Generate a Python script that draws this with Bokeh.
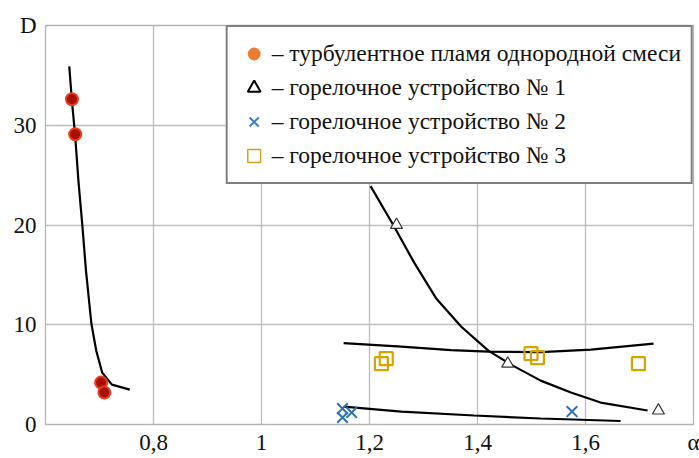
from bokeh.plotting import figure
from bokeh.models import (Range1d, FixedTicker, Legend, LegendItem,
                          ColumnDataSource)
from bokeh.embed import file_html
from bokeh.resources import INLINE

# ---- data ----
homog_x = [0.649, 0.655, 0.703, 0.709]
homog_D = [32.6, 29.1, 4.2, 3.2]

dev1_x = [1.25, 1.456, 1.735]
dev1_D = [20.0, 6.1, 1.4]

dev2_x = [1.150, 1.150, 1.167, 1.575]
dev2_D = [1.6, 0.7, 1.2, 1.3]

dev3_x = [1.222, 1.231, 1.499, 1.511, 1.698]
dev3_D = [6.1, 6.6, 7.1, 6.7, 6.1]

# trend curves
fit0_x = [0.644, 0.649, 0.655, 0.661, 0.668, 0.675, 0.685, 0.694, 0.705, 0.723, 0.756]
fit0_D = [35.9, 32.4, 28.9, 24.4, 20.1, 15.4, 10.1, 7.4, 5.2, 4.0, 3.5]

fit1_x = [1.202, 1.244, 1.283, 1.324, 1.370, 1.420, 1.462, 1.517, 1.573, 1.628, 1.715]
fit1_D = [23.9, 20.0, 16.2, 12.6, 9.8, 7.4, 6.0, 4.4, 3.2, 2.2, 1.4]

fit3_x = [1.152, 1.259, 1.351, 1.420, 1.517, 1.610, 1.726]
fit3_D = [8.15, 7.8, 7.45, 7.3, 7.25, 7.5, 8.1]

fit2_x = [1.152, 1.259, 1.394, 1.517, 1.665]
fit2_D = [1.8, 1.3, 0.9, 0.6, 0.35]

x_ticks = [0.6, 0.8, 1.0, 1.2, 1.4, 1.6, 1.8]
x_tick_labels = ["", "0,8", "1", "1,2", "1,4", "1,6", "α"]
y_ticks = [0, 10, 20, 30, 40]
y_tick_labels = ["0", "10", "20", "30", "D"]

legend_labels = [
    "– турбулентное пламя однородной смеси",
    "– горелочное устройство № 1",
    "– горелочное устройство № 2",
    "– горелочное устройство № 3",
]

FONT = "Liberation Serif"

p = figure(width=699, height=458, output_backend="svg", toolbar_location=None,
           x_range=Range1d(0.6, 1.8), y_range=Range1d(0, 40),
           min_border_left=45, min_border_top=25, min_border_right=6,
           min_border_bottom=34)

p.background_fill_color = "white"
p.outline_line_color = "#b5b5b5"
p.outline_line_width = 1.3

for ax in (p.xaxis[0], p.yaxis[0]):
    ax.axis_line_color = None
    ax.major_tick_line_color = None
    ax.minor_tick_line_color = None
    ax.major_tick_out = 0
    ax.major_tick_in = 0
    ax.minor_tick_out = 0
    ax.minor_tick_in = 0
    ax.major_label_text_font = FONT
    ax.major_label_text_font_size = "23px"
    ax.major_label_text_color = "#111111"

p.xaxis[0].ticker = FixedTicker(ticks=x_ticks)
p.xaxis[0].major_label_overrides = {t: l for t, l in zip(x_ticks, x_tick_labels)}
p.xaxis[0].major_label_standoff = 5
p.yaxis[0].ticker = FixedTicker(ticks=y_ticks)
p.yaxis[0].major_label_overrides = {t: l for t, l in zip(y_ticks, y_tick_labels)}
p.yaxis[0].major_label_standoff = 9

p.xgrid.grid_line_color = "#bdbdbd"
p.ygrid.grid_line_color = "#bdbdbd"
p.xgrid.grid_line_width = 1.3
p.ygrid.grid_line_width = 1.3

# curves
for cx, cy in ((fit0_x, fit0_D), (fit1_x, fit1_D), (fit3_x, fit3_D), (fit2_x, fit2_D)):
    p.line(cx, cy, line_color="black", line_width=2.2)

# data markers
p.scatter(homog_x, homog_D, marker="circle", size=12, fill_color="#a81000",
          line_color="#e8401e", line_width=2)
p.scatter(dev1_x, dev1_D, marker="triangle", size=12, fill_color="white",
          line_color="#333333", line_width=1.2)
p.scatter(dev2_x, dev2_D, marker="x", size=15, line_color="#2e6fb8", line_width=2)
p.scatter(dev3_x, dev3_D, marker="square", size=13, fill_color=None,
          line_color="#d6a400", line_width=2.2)

# legend proxies (legend styling differs from plotted marks); placed off-range
off = dict(x=[0.0], y=[-100.0])
r0 = p.scatter("x", "y", source=ColumnDataSource(off), marker="circle", size=14,
               fill_color="#ed7d31", line_color=None)
r1 = p.scatter("x", "y", source=ColumnDataSource(off), marker="triangle", size=16,
               fill_color=None, line_color="black", line_width=2)
r2 = p.scatter("x", "y", source=ColumnDataSource(off), marker="x", size=13,
               line_color="#3b7fc4", line_width=2)
r3 = p.scatter("x", "y", source=ColumnDataSource(off), marker="square", size=13,
               fill_color=None, line_color="#c9a227", line_width=1.5)

legend = Legend(items=[LegendItem(label=legend_labels[0], renderers=[r0]),
                       LegendItem(label=legend_labels[1], renderers=[r1]),
                       LegendItem(label=legend_labels[2], renderers=[r2]),
                       LegendItem(label=legend_labels[3], renderers=[r3])],
                location="top_right", margin=0, padding=10, spacing=1,
                label_height=30, glyph_height=33, glyph_width=32,
                label_standoff=2,
                label_text_font=FONT, label_text_font_size="23.5px",
                label_text_color="#111111",
                border_line_color="black", border_line_width=2,
                background_fill_color="white", background_fill_alpha=1.0)
p.add_layout(legend, "center")

open("out.html", "w").write(file_html(p, INLINE))
